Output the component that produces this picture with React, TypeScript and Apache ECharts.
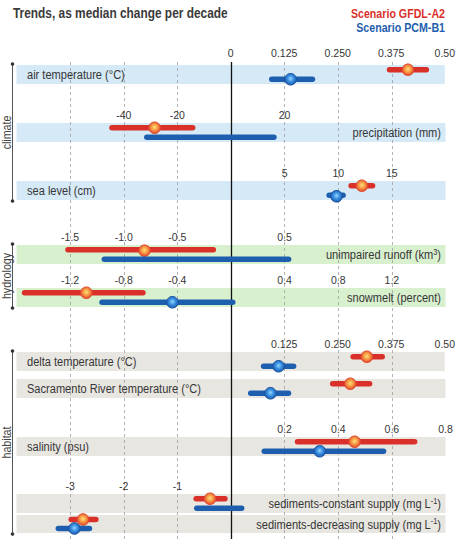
import React, { useEffect, useRef } from "react";
import * as echarts from "echarts";

// Liberation Sans has Arial metrics; texts are squeezed horizontally to get a narrow face
const FONT = '"Liberation Sans", Arial, sans-serif';
const NARROW = 0.82;

// ---- data -------------------------------------------------------------
const scenarios = ["GFDL-A2", "PCM-B1"];

const rowLabels = [
  "air temperature (°C)",
  "precipitation (mm)",
  "sea level (cm)",
  "unimpaired runoff (km{sup|3})",
  "snowmelt (percent)",
  "delta temperature (°C)",
  "Sacramento River temperature (°C)",
  "salinity (psu)",
  "sediments-constant supply (mg L{sup|-1})",
  "sediments-decreasing supply (mg L{sup|-1})",
];
const rowGroups = [
  "climate", "climate", "climate",
  "hydrology", "hydrology",
  "habitat", "habitat", "habitat", "habitat", "habitat",
];
const groupNames = ["climate", "hydrology", "habitat"];

// trend ranges and medians, change per decade
const gfdlLow = [0.371, -44.4, 11.2, -1.52, -1.54, 0.286, 0.237, 0.248, -0.65, -2.98];
const gfdlHigh = [0.457, -14.3, 13.2, -0.165, -0.657, 0.354, 0.323, 0.685, -0.112, -2.52];
const gfdlMedian = [0.414, -28.5, 12.2, -0.807, -1.079, 0.318, 0.278, 0.461, -0.391, -2.76];
const pcmLow = [0.096, -31.4, 9.15, -1.181, -0.962, 0.077, 0.046, 0.124, -0.638, -3.22];
const pcmHigh = [0.191, 16.0, 10.45, 0.537, 0.013, 0.147, 0.134, 0.569, 0.199, -2.64];
const pcmMedian: (number | null)[] = [0.14, null, 9.83, null, -0.437, 0.112, 0.092, 0.331, null, -2.92];

// axis step for each row, and the tick labels printed above it
const rowSteps = [0.125, 20, 5, 0.5, 0.4, 0.125, 0.125, 0.2, 1, 1];
const tickLabels: (string[] | null)[] = [
  ["0", "0.125", "0.250", "0.375", "0.50"],
  ["-40", "-20", "20"],
  ["5", "10", "15"],
  ["-1.5", "-1.0", "-0.5", "0.5"],
  ["-1.2", "-0.8", "-0.4", "0.4", "0.8", "1.2"],
  ["0.125", "0.250", "0.375", "0.50"],
  null,
  ["0.2", "0.4", "0.6", "0.8"],
  ["-3", "-2", "-1"],
  null,
];

// ---- layout & style ---------------------------------------------------
const W = 458;
const H = 539;
const PLOT_LEFT = 16.5;
const PLOT_WIDTH = 429;
const PLOT_TOP = 62;
const rowTops = [65, 123, 181, 245, 288, 352, 379, 437, 494, 515];
const rowHeights = [19, 19, 19, 19, 19, 19, 19, 19, 19, 18];
const rowLabelSide = ["left", "right", "left", "right", "right", "left", "left", "left", "right", "right"];
const gridUnits = [-3, -2, -1, 0, 1, 2, 3];

const bandFill: Record<string, string> = {
  climate: "#d5e9f7",
  hydrology: "#d9f0cf",
  habitat: "#e8e6e1",
};
const RED = "#d9302a";
const BLUE = "#1e5eae";
const TEXT = "#363636";

const redDot = () =>
  new echarts.graphic.RadialGradient(0.5, 0.45, 0.55, [
    { offset: 0, color: "#ffe07a" },
    { offset: 0.45, color: "#f7a048" },
    { offset: 1, color: "#e5452c" },
  ]);
const blueDot = () =>
  new echarts.graphic.RadialGradient(0.5, 0.45, 0.55, [
    { offset: 0, color: "#90d8ff" },
    { offset: 0.5, color: "#3a8ee0" },
    { offset: 1, color: "#1c5cae" },
  ]);

function narrowText(x: number, y: number, style: any, extra: any = {}) {
  return {
    type: "text",
    x,
    y,
    scaleX: NARROW,
    ...extra,
    style: { fontFamily: FONT, textVerticalAlign: "middle", ...style },
  };
}

function buildOption() {
  const grid: any[] = [
    { left: PLOT_LEFT, width: PLOT_WIDTH, top: PLOT_TOP, bottom: 0, show: false },
  ];
  const xAxis: any[] = [{ gridIndex: 0, type: "value", min: -4, max: 4, show: false }];
  const yAxis: any[] = [{ gridIndex: 0, type: "value", min: 0, max: 1, show: false }];
  const series: any[] = [
    {
      type: "line",
      xAxisIndex: 0,
      yAxisIndex: 0,
      data: [],
      silent: true,
      z: 2,
      markLine: {
        silent: true,
        symbol: ["none", "none"],
        label: { show: false },
        data: gridUnits.map((u) => ({
          xAxis: u,
          lineStyle:
            u === 0
              ? { color: "#111", type: "solid", width: 1.3 }
              : { color: "#a0a0a0", type: [3, 3], width: 0.8 },
        })),
      },
    },
  ];

  rowLabels.forEach((_, i) => {
    const gi = i + 1;
    const step = rowSteps[i];
    const ticks = tickLabels[i];
    grid.push({
      left: PLOT_LEFT,
      width: PLOT_WIDTH,
      top: rowTops[i],
      height: rowHeights[i],
      show: true,
      backgroundColor: bandFill[rowGroups[i]],
      borderWidth: 0,
    });
    xAxis.push({
      gridIndex: gi,
      type: "value",
      position: "top",
      min: -4 * step,
      max: 4 * step,
      interval: step,
      z: 10,
      axisLine: { show: false },
      axisTick: { show: false },
      splitLine: { show: false },
      axisLabel: ticks
        ? {
            show: true,
            margin: i === 0 ? 7 : 3,
            fontSize: 10.5,
            color: TEXT,
            fontFamily: FONT,
            showMinLabel: true,
            showMaxLabel: true,
            hideOverlap: false,
            formatter: (v: number) =>
              ticks.find((s) => Math.abs(parseFloat(s) - v) < step * 1e-6) ?? "",
          }
        : { show: false },
    });
    yAxis.push({
      gridIndex: gi,
      type: "category",
      data: scenarios,
      inverse: true,
      show: false,
    });
    series.push({
      type: "custom",
      xAxisIndex: gi,
      yAxisIndex: gi,
      z: 5,
      silent: true,
      encode: { x: [0, 1], y: 2 },
      data: [
        [gfdlLow[i], gfdlHigh[i], 0],
        [pcmLow[i], pcmHigh[i], 1],
      ],
      renderItem: (params: any, api: any) => {
        const cat = api.value(2);
        const p0 = api.coord([api.value(0), cat]);
        const p1 = api.coord([api.value(1), cat]);
        const med = cat === 0 ? gfdlMedian[i] : pcmMedian[i];
        const children: any[] = [
          {
            type: "line",
            shape: { x1: p0[0], y1: p0[1], x2: p1[0], y2: p1[1] },
            style: { stroke: cat === 0 ? RED : BLUE, lineWidth: 5.5, lineCap: "round" },
          },
        ];
        if (med !== null && med !== undefined) {
          const pm = api.coord([med, cat]);
          children.push({
            type: "circle",
            shape: { cx: pm[0], cy: pm[1], r: 5.8 },
            style: {
              fill: cat === 0 ? redDot() : blueDot(),
              stroke: cat === 0 ? "#e04a2c" : "#1a54a0",
              lineWidth: 1,
            },
          });
        }
        return { type: "group", children };
      },
    });
  });

  const graphic: any[] = [
    narrowText(13, 13, {
      text: "Trends, as median change per decade",
      fontSize: 14.5,
      fontWeight: "bold",
      fill: "#3a3a3a",
      textAlign: "left",
    }),
    narrowText(445, 13.5, {
      text: "Scenario GFDL-A2",
      fontSize: 13,
      fontWeight: "bold",
      fill: RED,
      textAlign: "right",
    }),
    narrowText(445, 27.5, {
      text: "Scenario PCM-B1",
      fontSize: 13,
      fontWeight: "bold",
      fill: BLUE,
      textAlign: "right",
    }),
  ];

  rowLabels.forEach((label, i) => {
    const left = rowLabelSide[i] === "left";
    graphic.push(
      narrowText(
        left ? 27 : 441,
        rowTops[i] + rowHeights[i] / 2 + 0.5,
        {
          text: label,
          fontSize: 13.5,
          fill: TEXT,
          textAlign: left ? "left" : "right",
          rich: {
            sup: {
              fontFamily: FONT,
              fontSize: 9,
              fill: TEXT,
              verticalAlign: "top",
              padding: [0, 0, 6, 0],
            },
          },
        },
        { z: 20 }
      )
    );
  });

  // group brackets on the left
  groupNames.forEach((g) => {
    const idx = rowGroups.map((r, k) => (r === g ? k : -1)).filter((k) => k >= 0);
    const first = idx[0];
    const last = idx[idx.length - 1];
    const y1 = rowTops[first] - 1;
    const y2 = rowTops[last] + rowHeights[last] + 1;
    graphic.push(
      {
        type: "line",
        shape: { x1: 12.5, y1, x2: 12.5, y2 },
        style: { stroke: "#555", lineWidth: 1 },
      },
      { type: "circle", shape: { cx: 12.5, cy: y1, r: 1.8 }, style: { fill: "#333" } },
      { type: "circle", shape: { cx: 12.5, cy: y2, r: 1.8 }, style: { fill: "#333" } },
      narrowText(
        6.8,
        (y1 + y2) / 2,
        { text: g, fontSize: 13, fill: "#444", textAlign: "center" },
        { rotation: Math.PI / 2 }
      )
    );
  });

  return {
    animation: false,
    backgroundColor: "#fff",
    grid,
    xAxis,
    yAxis,
    series,
    graphic,
  };
}

export default function App() {
  const ref = useRef<HTMLDivElement>(null);
  useEffect(() => {
    if (!ref.current) return;
    const chart = echarts.init(ref.current, null, { renderer: "svg" });
    chart.setOption(buildOption() as any);
    return () => chart.dispose();
  }, []);
  return (
    <div
      ref={ref}
      style={{ position: "absolute", left: 0, top: 0, width: W, height: H }}
    />
  );
}
